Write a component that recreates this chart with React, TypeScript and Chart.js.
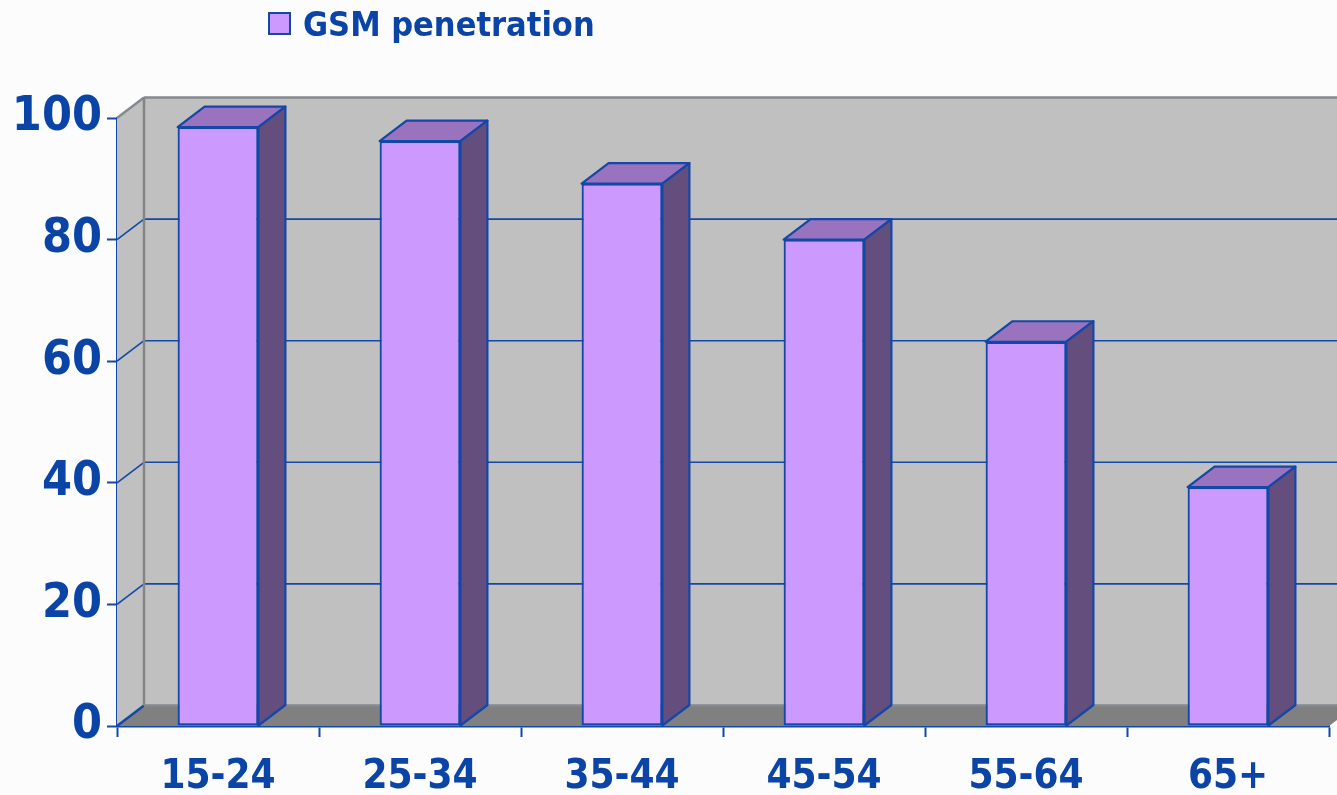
import React, { useEffect, useRef } from "react";
import { Chart, registerables } from "chart.js";

Chart.register(...registerables);

const categories = ["15-24", "25-34", "35-44", "45-54", "55-64", "65+"];
const seriesName = "GSM penetration";
const penetration = [98.5, 96.2, 89.2, 80, 63.2, 39.3];
const yTicks = [0, 20, 40, 60, 80, 100];

const BLUE = "#1347a8";
const TEXT_BLUE = "#0a44a6";
const FONT = "'DejaVu Sans Condensed', 'DejaVu Sans', sans-serif";
const DX = 27;
const DY = 20.5;

const threeD = {
  id: "threeD",
  beforeDatasetsDraw(chart: any) {
    const { ctx, chartArea } = chart;
    const { left, right, top, bottom } = chartArea;
    const ys = chart.scales.y;
    ctx.save();
    ctx.fillStyle = "#c0c0c0";
    ctx.fillRect(left + DX, top - DY, right - left + 40, bottom - top);
    ctx.beginPath();
    ctx.moveTo(left, top);
    ctx.lineTo(left + DX, top - DY);
    ctx.lineTo(left + DX, bottom - DY);
    ctx.lineTo(left, bottom);
    ctx.closePath();
    ctx.fill();
    ctx.fillStyle = "#808080";
    ctx.beginPath();
    ctx.moveTo(left, bottom);
    ctx.lineTo(left + DX, bottom - DY);
    ctx.lineTo(right + DX, bottom - DY);
    ctx.lineTo(right, bottom);
    ctx.closePath();
    ctx.fill();
    yTicks.forEach((v) => {
      const py = ys.getPixelForValue(v);
      const isEdge = v === 100 || v === 0;
      ctx.lineWidth = isEdge ? 2.5 : 1.6;
      ctx.strokeStyle = v === 100 ? "#858a90" : BLUE;
      ctx.beginPath();
      ctx.moveTo(left, py);
      ctx.lineTo(left + DX, py - DY);
      ctx.stroke();
      ctx.strokeStyle = isEdge ? "#858a90" : BLUE;
      ctx.beginPath();
      ctx.moveTo(left + DX, py - DY);
      ctx.lineTo(right + DX + 40, py - DY);
      ctx.stroke();
    });
    ctx.strokeStyle = "#858585";
    ctx.lineWidth = 2.5;
    ctx.beginPath();
    ctx.moveTo(left + DX, top - DY);
    ctx.lineTo(left + DX, bottom - DY);
    ctx.stroke();
    ctx.restore();
  },
  afterDatasetsDraw(chart: any) {
    const { ctx } = chart;
    const meta = chart.getDatasetMeta(0);
    ctx.save();
    ctx.lineWidth = 2.2;
    ctx.strokeStyle = BLUE;
    ctx.lineJoin = "round";
    meta.data.forEach((bar: any) => {
      const { x, y, base, width } = bar.getProps(["x", "y", "base", "width"], true);
      const l = x - width / 2;
      const r = x + width / 2;
      ctx.fillStyle = "#9973be";
      ctx.beginPath();
      ctx.moveTo(l, y);
      ctx.lineTo(l + DX, y - DY);
      ctx.lineTo(r + DX, y - DY);
      ctx.lineTo(r, y);
      ctx.closePath();
      ctx.fill();
      ctx.stroke();
      ctx.fillStyle = "#634e7d";
      ctx.beginPath();
      ctx.moveTo(r, y);
      ctx.lineTo(r + DX, y - DY);
      ctx.lineTo(r + DX, base - DY);
      ctx.lineTo(r, base);
      ctx.closePath();
      ctx.fill();
      ctx.stroke();
    });
    ctx.restore();
  },
  afterDraw(chart: any) {
    const { ctx } = chart;
    ctx.save();
    ctx.fillStyle = "#cc99ff";
    ctx.fillRect(269, 13, 21, 21);
    ctx.strokeStyle = BLUE;
    ctx.lineWidth = 2;
    ctx.strokeRect(269, 13, 21, 21);
    ctx.fillStyle = TEXT_BLUE;
    ctx.font = `bold 34px ${FONT}`;
    ctx.textBaseline = "alphabetic";
    ctx.textAlign = "left";
    ctx.fillText(chart.data.datasets[0].label, 303, 36);
    ctx.restore();
  },
};

export default function App() {
  const ref = useRef<HTMLCanvasElement | null>(null);
  useEffect(() => {
    if (!ref.current) return;
    const chart = new Chart(ref.current, {
      type: "bar",
      data: {
        labels: categories,
        datasets: [
          {
            label: seriesName,
            data: penetration,
            backgroundColor: "#cc99ff",
            borderColor: BLUE,
            borderWidth: 2.2,
            borderSkipped: false,
            barPercentage: 0.4,
            categoryPercentage: 1,
          },
        ],
      },
      options: {
        responsive: true,
        maintainAspectRatio: false,
        animation: false,
        layout: { padding: { top: 118, right: 8, left: 0, bottom: 0 } },
        plugins: { legend: { display: false }, tooltip: { enabled: false } },
        scales: {
          x: {
            grid: {
              display: true,
              drawOnChartArea: false,
              color: BLUE,
              tickColor: BLUE,
              tickLength: 11,
              tickWidth: 2,
              offset: true,
            },
            border: { display: true, color: BLUE, width: 2.5 },
            ticks: {
              color: TEXT_BLUE,
              font: { family: FONT, size: 40, weight: "bold" },
              padding: 17,
              maxRotation: 0,
            },
            afterFit: (s: any) => {
              s.height = 69;
            },
          },
          y: {
            min: 0,
            max: 100,
            ticks: {
              stepSize: 20,
              color: TEXT_BLUE,
              font: { family: FONT, size: 48, weight: "bold" },
              padding: 5,
            },
            grid: {
              display: true,
              drawOnChartArea: false,
              color: BLUE,
              tickColor: BLUE,
              tickLength: 10,
              tickWidth: 2,
            },
            border: { display: true, color: BLUE, width: 2.5 },
            afterFit: (s: any) => {
              s.width = 117;
            },
          },
        },
      },
      plugins: [threeD],
    });
    return () => chart.destroy();
  }, []);
  return (
    <div
      style={{
        position: "absolute",
        left: 0,
        top: 0,
        width: 1337,
        height: 795,
        background: "#fcfcfc",
      }}
    >
      <canvas ref={ref} />
    </div>
  );
}
